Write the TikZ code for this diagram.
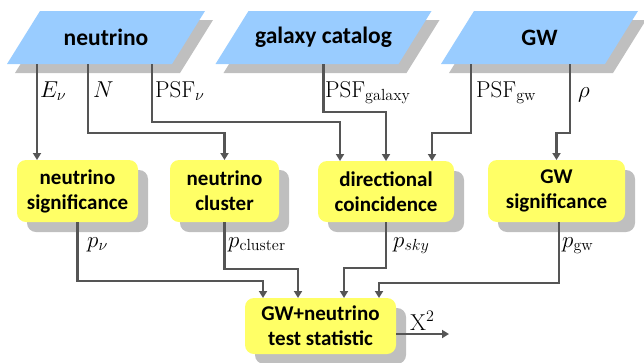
\RequirePackage{fix-cm}
\documentclass[tikz,border=0pt]{standalone}
\usepackage{fontspec}
\setsansfont{Carlito}
\usetikzlibrary{arrows.meta,shadows,backgrounds}
\definecolor{pblue}{HTML}{99CCFF}
\definecolor{pyel}{HTML}{FFFF66}
\definecolor{pshad}{HTML}{BFBFBF}
\definecolor{pline}{HTML}{555555}
\newcommand\lbl[1]{\scalebox{1.15}{$#1$}}
\tikzset{
 srcbox/.style={rectangle, minimum width=165pt, minimum height=53pt, inner sep=0pt, outer sep=0pt, font=\sffamily\bfseries\fontsize{23.5}{28}\selectfont},
 procbox/.style={rectangle, rounded corners=9pt, fill=pyel, align=center, inner sep=0pt, outer sep=0pt, font=\sffamily\bfseries\fontsize{21}{25}\selectfont, drop shadow={shadow xshift=10pt, shadow yshift=-10pt, fill=pshad, opacity=1}},
 conn/.style={draw=pline, line width=2.2pt, -{Triangle[width=8pt,length=7pt]}},
 lab/.style={font=\fontsize{20}{24}\selectfont, inner sep=0pt, anchor=base west}
}
\newcommand\srcshape[1]{%
 \fill[pshad] ([shift={(-8.5pt,-9pt)}]#1.south west) -- ([shift={(-8.5pt,-9pt)}]#1.south east) -- ([shift={(24.5pt,-9pt)}]#1.north east) -- ([shift={(24.5pt,-9pt)}]#1.north west) -- cycle;
 \fill[pblue] ([xshift=-16.5pt]#1.south west) -- ([xshift=-16.5pt]#1.south east) -- ([xshift=16.5pt]#1.north east) -- ([xshift=16.5pt]#1.north west) -- cycle;}
\begin{document}
\begin{tikzpicture}[x=1pt,y=-1pt]
\useasboundingbox (0,0) rectangle (644,362);
\node[srcbox] (neu) at (106,37.5) {neutrino};
\node[srcbox, minimum width=183pt] (gal) at (323.5,37.5) {galaxy catalog};
\node[srcbox, minimum width=164pt] (gw) at (539.5,37.5) {GW};
\begin{scope}[on background layer]
\srcshape{neu}\srcshape{gal}\srcshape{gw}
\end{scope}
\node[procbox, minimum width=121pt, minimum height=62pt] (nsig) at (77.5,191) {neutrino\\significance};
\node[procbox, minimum width=109pt, minimum height=62pt] (nclu) at (224.5,191) {neutrino\\cluster};
\node[procbox, minimum width=136pt, minimum height=61pt] (dir) at (386,191.5) {directional\\coincidence};
\node[procbox, minimum width=137pt, minimum height=62pt] (gsig) at (556.5,191) {GW\\significance};
\node[procbox, minimum width=151pt, minimum height=56pt] (ts) at (320.5,326) {GW+neutrino\\test statistic};
\draw[conn] ([xshift=-69pt]neu.south) -- ([xshift=-40.5pt]nsig.north);
\draw[conn] ([xshift=-18pt]neu.south) -- ++(0,69) -| (nclu.north);
\draw[conn] ([xshift=46pt]neu.south) -- ++(0,58) -| ([xshift=-46pt]dir.north);
\draw[conn] (gal.south) -- ++(0,48) -| (dir.north);
\draw[conn] ([xshift=-68.5pt]gw.south) -- ++(0,69) -| ([xshift=46pt]dir.north);
\draw[conn] ([xshift=30.5pt]gw.south) -- ++(0,69) -| (gsig.north);
\draw[conn] (nsig.south) -- ++(0,59) -| ([xshift=-57.5pt]ts.north);
\draw[conn] (nclu.south) -- ++(0,47) -| ([xshift=-22.5pt]ts.north);
\draw[conn] (dir.south) -- ++(0,46) -| ([xshift=23.5pt]ts.north);
\draw[conn] ([xshift=2.5pt]gsig.south) -- ++(0,61) -| ([xshift=58.5pt]ts.north);
\coordinate (out) at (449,334);
\draw[conn] (ts.east |- out) -- (out);
\node[lab] (lEv) at (40,97) {\lbl{E_\nu}};
\node[lab] (lN) at (93,97) {\lbl{N}};
\node[lab] (lPn) at (155,97) {\lbl{\mathrm{PSF}_\nu}};
\node[lab] (lPg) at (325,97) {\lbl{\mathrm{PSF}_{\mathrm{galaxy}}}};
\node[lab] (lPw) at (476,97) {\lbl{\mathrm{PSF}_{\mathrm{gw}}}};
\node[lab] (lrho) at (578,97) {\lbl{\rho}};
\node[lab] (lpn) at (87,247) {\lbl{p_\nu}};
\node[lab] (lpc) at (228,247) {\lbl{p_{\mathrm{cluster}}}};
\node[lab] (lps) at (393,247) {\lbl{p_{sky}}};
\node[lab] (lpg) at (562,247) {\lbl{p_{\mathrm{gw}}}};
\node[lab] (lX) at (410,330) {\lbl{\mathrm{X}^2}};
\end{tikzpicture}
\end{document}
